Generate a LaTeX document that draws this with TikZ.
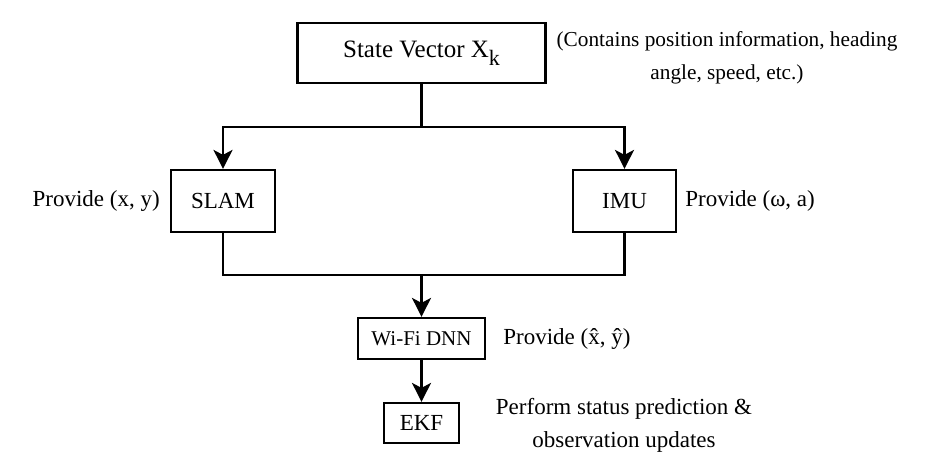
\documentclass[tikz,border=0pt]{standalone}
\usepackage{fontspec}
\setmainfont{Liberation Serif}
\usetikzlibrary{arrows.meta,positioning}

\begin{document}
\begin{tikzpicture}[x=1pt,y=-1pt]
			\tikzset{box/.style={draw, line width=2.2pt, inner sep=0pt, font=\fontsize{23}{28}\selectfont}}
			\tikzset{note/.style={inner sep=0pt, align=center, font=\fontsize{23}{33}\selectfont}}
			\tikzset{flow/.style={line width=2.2pt, -{Stealth[length=19pt,width=19pt,inset=5pt]}}}
			\useasboundingbox (0,0) rectangle (932,475);
			\node[box, minimum width=248pt, minimum height=60pt, font=\fontsize{25}{30}\selectfont] (state) at (421.5,53) {State Vector X\raisebox{-8pt}{\fontsize{22}{26}\selectfont k}};
			\node[box, minimum width=104pt, minimum height=62pt] (slam) at (223,201) {SLAM};
			\node[box, minimum width=103pt, minimum height=62pt] (imu) at (624.5,201) {IMU};
			\node[box, minimum width=127pt, minimum height=41pt, font=\fontsize{21}{25}\selectfont] (wifi) at (421.5,338.5) {Wi-Fi DNN};
			\node[box, minimum width=75pt, minimum height=40pt] (ekf) at (421.5,423) {EKF};
			\node[note, font=\fontsize{21.3}{33}\selectfont] (info) at (727,58) {(Contains position information, heading\\angle, speed, etc.)};
			\node[note, left=10pt of slam] (slamnote) {Provide (x, y)};
			\node[note, right=8pt of imu] (imunote) {Provide (ω, a)};
			\node[note, right=17pt of wifi] (wifinote) {Provide (\^{x}, \^{y})};
			\node[note] (ekfnote) at (624,425) {Perform status prediction \&\\observation updates};
			\coordinate (join) at (421.5,275);
			\draw[flow] (state.south) -- ++(0,43) -| (slam.north);
			\draw[flow] (state.south) -- ++(0,43) -| (imu.north);
			\draw[line width=2.2pt] (slam.south) |- (join) -| (imu.south);
			\draw[flow] (join) -- (wifi.north);
			\draw[flow] (wifi.south) -- (ekf.north);
		\end{tikzpicture}
\end{document}
